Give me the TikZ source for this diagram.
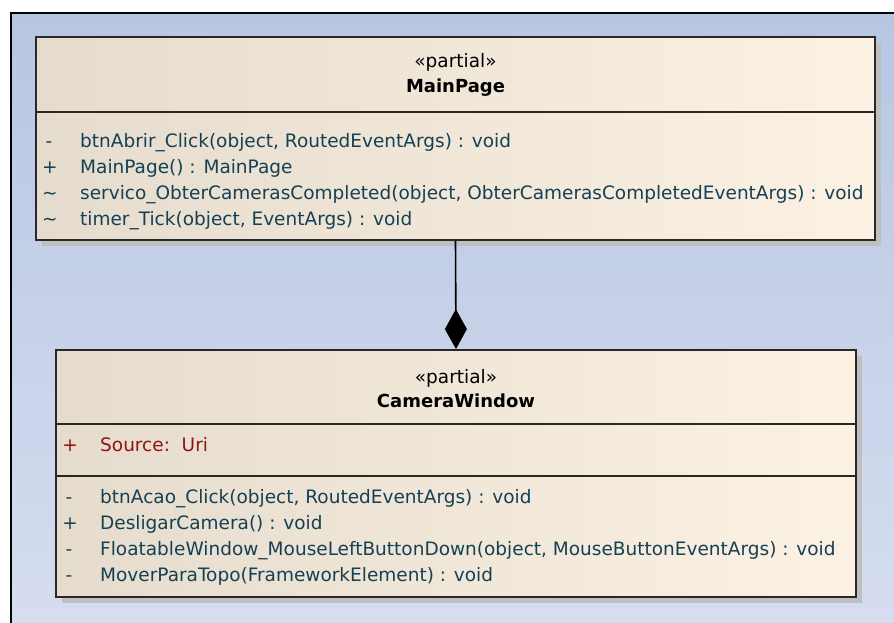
\documentclass[tikz,border=0pt]{standalone}
\usepackage{fontspec}
\setmainfont{DejaVu Sans}
\usetikzlibrary{arrows.meta,shadows,positioning}

\definecolor{bgtop}{RGB}{183,198,226}
\definecolor{bgbottom}{RGB}{214,221,240}
\definecolor{boxleft}{RGB}{229,220,206}
\definecolor{boxright}{RGB}{252,242,228}
\definecolor{methodcol}{RGB}{22,64,84}
\definecolor{attrcol}{RGB}{145,18,18}
\definecolor{edgecol}{RGB}{40,40,40}

\begin{document}
\begin{tikzpicture}[x=1pt, y=-1pt, >=Stealth,
    classbox/.style={draw=edgecol, line width=1.8pt, rectangle, inner sep=0pt,
        left color=boxleft, right color=boxright,
        drop shadow={shadow xshift=6pt, shadow yshift=-6pt, fill=black!25, opacity=1}},
    divider/.style={draw=edgecol, line width=1.4pt},
    umltext/.style={inner sep=0pt, font=\fontsize{18.5pt}{22pt}\selectfont},
    stereo/.style={umltext, anchor=base},
    classname/.style={umltext, anchor=base, font=\fontsize{18pt}{22pt}\selectfont\bfseries},
    method/.style={umltext, anchor=base west, text=methodcol},
    attr/.style={umltext, anchor=base west, text=attrcol},
    vis/.style={umltext, anchor=base, text=methodcol},
    visattr/.style={umltext, anchor=base, text=attrcol}]

    \useasboundingbox (0,0) rectangle (894,623);

    % background of the diagram frame
    \fill[top color=bgtop, bottom color=bgbottom] (11,13) rectangle (894,623);
    \draw[line width=2.2pt] (11,623) -- (11,13) -- (894,13);

    % MainPage (top)
    \node[classbox, minimum width=839pt, minimum height=203pt] (mainpage) at (455.5,138.5) {};
    \draw[divider] (36,112) -- (875,112);
    \node[stereo] (mpstereo) at (455.5,68) {«partial»};
    \node[classname] (mpname) at (455.5,93) {MainPage};

    \node[vis] (mpv1) at (49,147) {-};
    \node[vis] (mpv2) at (50,173) {+};
    \node[vis] (mpv3) at (50,199) {\textasciitilde};
    \node[vis] (mpv4) at (50,225) {\textasciitilde};
    \node[method] (mpm1) at (80,147) {btnAbrir\_Click(object, RoutedEventArgs) : void};
    \node[method] (mpm2) at (80,173) {MainPage() : MainPage};
    \node[method] (mpm3) at (80,199) {servico\_ObterCamerasCompleted(object, ObterCamerasCompletedEventArgs) : void};
    \node[method] (mpm4) at (80,225) {timer\_Tick(object, EventArgs) : void};

    % CameraWindow (bottom)
    \node[classbox, minimum width=800pt, minimum height=247pt] (camwin) at (456,473.5) {};
    \draw[divider] (55,424) -- (855,424);
    \draw[divider] (55,476) -- (857,476);
    \node[stereo] (cwstereo) at (456,383) {«partial»};
    \node[classname] (cwname) at (456,407) {CameraWindow};

    \node[visattr] (cwv0) at (70,451) {+};
    \node[attr] (cwa1) at (100,451) {Source:\ \ Uri};

    \node[vis] (cwv1) at (69,503.5) {-};
    \node[vis] (cwv2) at (70,529.5) {+};
    \node[vis] (cwv3) at (69,555.5) {-};
    \node[vis] (cwv4) at (69,581.5) {-};
    \node[method] (cwm1) at (100,503.5) {btnAcao\_Click(object, RoutedEventArgs) : void};
    \node[method] (cwm2) at (100,529.5) {DesligarCamera() : void};
    \node[method] (cwm3) at (100,555.5) {FloatableWindow\_MouseLeftButtonDown(object, MouseButtonEventArgs) : void};
    \node[method] (cwm4) at (100,581.5) {MoverParaTopo(FrameworkElement) : void};

    % composition
    \draw[line width=1.6pt, -{Diamond[length=40pt, width=22pt]}] (mainpage.south) -- (camwin.north);

\end{tikzpicture}
\end{document}
